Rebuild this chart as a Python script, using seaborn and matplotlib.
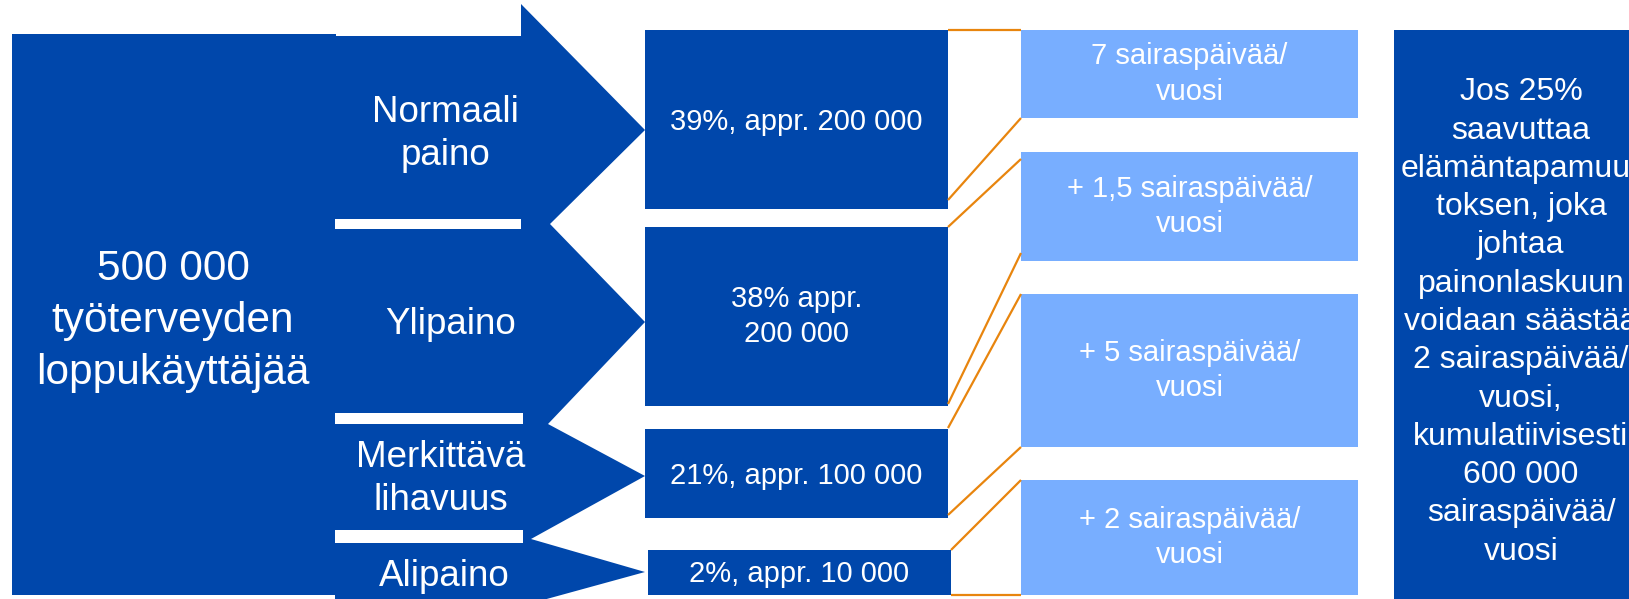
import matplotlib
matplotlib.use("Agg")
import matplotlib.pyplot as plt
import seaborn as sns
from matplotlib.patches import Rectangle, Polygon

# ---------------- data ----------------
total_label = "500 000\ntyöterveyden\nloppukäyttäjää"
categories = ["Normaali\npaino", "Ylipaino", "Merkittävä\nlihavuus", "Alipaino"]
shares = [39, 38, 21, 2]
group_labels = ["39%, appr. 200 000", "38% appr.\n200 000",
                "21%, appr. 100 000", "2%, appr. 10 000"]
sick_day_labels = ["7 sairaspäivää/\nvuosi", "+ 1,5 sairaspäivää/\nvuosi",
                   "+ 5 sairaspäivää/\nvuosi", "+ 2 sairaspäivää/\nvuosi"]
summary_lines = ["Jos 25%", "saavuttaa", "elämäntapamuu-", "toksen, joka",
                 "johtaa", "painonlaskuun", "voidaan säästää",
                 "2 sairaspäivää/", "vuosi,", "kumulatiivisesti",
                 "600 000", "sairaspäivää/", "vuosi"]

# ---------------- style / layout ----------------
DARK = "#0047AB"
LIGHT = "#78AEFF"
ORANGE = "#E8850E"
W, H = 1629, 599

sns.set_theme(style="white")
plt.rcParams["font.family"] = ["Liberation Sans", "DejaVu Sans"]

fig = plt.figure(figsize=(W / 100, H / 100), dpi=100)
ax = fig.add_axes([0, 0, 1, 1])
ax.set_xlim(0, W)
ax.set_ylim(H, 0)
ax.axis("off")

# big source box
ax.add_patch(Rectangle((12, 34), 336 - 12, 595 - 34, color=DARK, lw=0))
ax.text(173, 321, total_label, color="white", fontsize=30.5, ha="center",
        va="center", linespacing=1.38)

# chevron arrows (one per category)
arrow_shapes = [
    [(335, 36), (521, 36), (521, 4), (645, 130), (550, 224), (335, 224)],
    [(335, 224), (550, 224), (645, 322), (548, 424), (335, 424)],
    [(335, 424), (548, 424), (645, 476), (531, 539), (335, 539)],
    [(335, 539), (531, 539), (645, 572), (543, 600), (335, 600)],
]
arrow_label_pos = [(445, 134), (451, 324), (441, 479), (444, 576)]
separators = [(219, 229, 521), (413, 424, 523), (530, 543, 523)]

for shape in arrow_shapes:
    ax.add_patch(Polygon(shape, closed=True, color=DARK, lw=0))
for y0, y1, x1 in separators:
    ax.add_patch(Rectangle((335, y0), x1 - 335, y1 - y0, color="white", lw=0))
for lab, (x, y) in zip(categories, arrow_label_pos):
    ax.text(x, y, lab, color="white", fontsize=26.5, ha="center", va="center",
            linespacing=1.32)

# middle group boxes
group_boxes = [(645, 30, 948, 209), (645, 227, 948, 406),
               (645, 429, 948, 518), (648, 550, 951, 595)]
for lab, (x0, y0, x1, y1) in zip(group_labels, group_boxes):
    ax.add_patch(Rectangle((x0, y0), x1 - x0, y1 - y0, color=DARK, lw=0))
    ax.text((x0 + x1) / 2, (y0 + y1) / 2 + (2 if "\n" not in lab else 0), lab,
            color="white", fontsize=21, ha="center", va="center",
            linespacing=1.36)

# light sick-day boxes
light_boxes = [(1021, 30, 1358, 118), (1021, 152, 1358, 261),
               (1021, 294, 1358, 447), (1021, 480, 1358, 595)]
for lab, (x0, y0, x1, y1) in zip(sick_day_labels, light_boxes):
    ax.add_patch(Rectangle((x0, y0), x1 - x0, y1 - y0, color=LIGHT, lw=0))
    ax.text((x0 + x1) / 2, (y0 + y1) / 2, lab, color="white", fontsize=21,
            ha="center", va="center", linespacing=1.36)

# orange connectors
connectors = [
    ((948, 30), (1021, 30)),
    ((948, 200), (1021, 118)),
    ((948, 227), (1021, 159)),
    ((948, 404), (1021, 253)),
    ((948, 428), (1021, 294)),
    ((948, 515), (1021, 447)),
    ((951, 550), (1021, 480)),
    ((951, 595), (1021, 595)),
]
for (xa, ya), (xb, yb) in connectors:
    ax.plot([xa, xb], [ya, yb], color=ORANGE, lw=1.6, solid_capstyle="butt")

# summary box on the right
ax.add_patch(Rectangle((1394, 30), 300, 600, color=DARK, lw=0))
ax.text(1521, 322, "\n".join(summary_lines), color="white", fontsize=23,
        ha="center", va="center", linespacing=1.36)

fig.savefig("out.png", dpi=100)
